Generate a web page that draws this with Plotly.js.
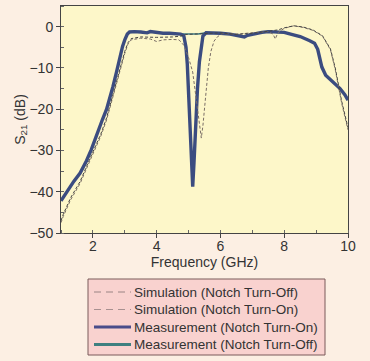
<!DOCTYPE html>
<html><head><meta charset="utf-8">
<script src="https://cdn.plot.ly/plotly-3.0.1.min.js"></script>
<style>html,body{margin:0;padding:0;background:#fcefe3;}#chart{width:370px;height:361px;}</style>
</head><body><div id="chart"></div>
<script>
// Measurement (Notch Turn-On)
const freqMeasOn = [1.0,1.2,1.4,1.6,1.8,1.95,2.06,2.2,2.3,2.43,2.53,2.63,2.74,2.84,2.93,3.0,3.08,3.15,3.3,3.5,3.7,3.8,4.0,4.2,4.4,4.6,4.75,4.85,4.92,4.96,5.0,5.05,5.1,5.13,5.17,5.22,5.28,5.34,5.4,5.45,5.55,5.8,6.0,6.3,6.6,6.75,6.85,7.0,7.3,7.5,7.8,8.0,8.2,8.5,8.8,8.95,9.05,9.1,9.18,9.3,9.45,9.6,9.75,9.9,10.0];
const measOn = [-42.2,-39.8,-37.5,-35.5,-32.5,-29.8,-27.4,-24.5,-22.5,-20,-17.5,-14.5,-11,-7.5,-4.8,-3.2,-1.8,-1.3,-1.2,-1.3,-1.5,-1.2,-1.5,-1.6,-1.6,-1.8,-1.8,-2.2,-5,-9,-16,-25,-33,-38.8,-33,-24,-15,-8.5,-4.5,-2.3,-1.5,-1.5,-1.6,-1.8,-2.2,-2.5,-2.1,-1.8,-1.4,-1.2,-1.4,-1.4,-1.8,-2.4,-3.4,-4.0,-5.5,-7.5,-9.8,-11.8,-12.8,-13.8,-15,-16.5,-17.8];
// Measurement (Notch Turn-Off)
const freqMeasOff = [1.0,1.2,1.4,1.6,1.8,1.95,2.06,2.2,2.3,2.43,2.53,2.63,2.74,2.84,2.93,3.0,3.08,3.15,3.3,3.5,3.7,3.8,4.0,4.2,4.4,4.6,4.75,5.0,5.3,5.55,5.8,6.0,6.3,6.6,6.75,6.85,7.0,7.3,7.5,7.8,8.0,8.2,8.5,8.8,8.95,9.05,9.1,9.18,9.3,9.45,9.6,9.75,9.9,10.0];
const measOff = [-42.2,-39.8,-37.5,-35.5,-32.5,-29.8,-27.4,-24.5,-22.5,-20,-17.5,-14.5,-11,-7.5,-4.8,-3.2,-1.8,-1.3,-1.2,-1.3,-1.5,-1.2,-1.5,-1.6,-1.6,-1.8,-1.8,-1.9,-1.8,-1.5,-1.5,-1.6,-1.8,-2.2,-2.5,-2.1,-1.8,-1.4,-1.2,-1.4,-1.4,-1.8,-2.4,-3.4,-4.0,-5.5,-7.5,-9.8,-11.8,-12.8,-13.8,-15,-16.5,-17.8];
// Simulation (Notch Turn-On)
const freqSimOn = [1.0,1.07,1.3,1.6,1.85,2.06,2.25,2.43,2.63,2.78,2.9,3.0,3.1,3.2,3.5,3.8,4.0,4.2,4.5,4.7,4.85,5.0,5.13,5.25,5.34,5.4,5.45,5.55,5.62,5.7,5.8,5.9,6.05,6.5,7.0,7.5,7.65,7.72,7.8,8.0,8.3,8.6,8.9,9.2,9.45,9.6,9.8,10.0];
const simOn = [-47.5,-46,-42,-38,-33.5,-29.9,-26.5,-22.6,-16.9,-12.5,-9.6,-6.5,-4.2,-3.2,-2.8,-3.0,-3.6,-3.2,-3.1,-3.2,-4.5,-7.5,-11,-18,-24,-27,-24,-15,-10,-6,-3.5,-2.5,-1.7,-1.8,-1.5,-1.2,-1.8,-3,-1.5,-0.4,0.2,-0.2,-0.9,-2.3,-5.6,-10.4,-18.5,-25];
// Simulation (Notch Turn-Off)
const freqSimOff = [1.0,1.07,1.3,1.6,1.85,2.06,2.25,2.43,2.63,2.78,2.9,3.0,3.1,3.2,3.5,4.0,4.5,4.75,4.9,5.2,5.5,6.0,6.5,7.0,7.5,7.8,8.0,8.3,8.6,8.9,9.2,9.45,9.6,9.8,10.0];
const simOff = [-47,-45.5,-41.5,-37.5,-33,-29.4,-26,-22.1,-16.4,-12,-9.1,-6,-3.9,-2.9,-2.5,-2.6,-2.5,-2.3,-1.9,-1.8,-1.7,-1.5,-1.9,-1.6,-1.1,-0.8,-0.3,0.2,-0.1,-0.8,-2.2,-5.4,-10,-18,-24.5];

const legendNames = ['Simulation (Notch Turn-Off)', 'Simulation (Notch Turn-On)', 'Measurement (Notch Turn-On)', 'Measurement (Notch Turn-Off)'];
const legendColors = ['#9a8484', '#a89090', '#4a4c8a', '#3f8080'];
const legendDash = ['7px,5px', '7px,5px', 'solid', 'solid'];
const legendWidth = [1, 1, 3.2, 3.2];

const traces = [
  {x: freqMeasOff, y: measOff, name: legendNames[3], mode: 'lines', line: {color: '#3e7a80', width: 1.5}},
  {x: freqMeasOn, y: measOn, name: legendNames[2], mode: 'lines', line: {color: '#3b4c80', width: 3.4}},
  {x: freqSimOn, y: simOn, name: legendNames[1], mode: 'lines', line: {color: '#7a6e66', width: 1, dash: '3px,2px'}},
  {x: freqSimOff, y: simOff, name: legendNames[0], mode: 'lines', line: {color: '#444444', width: 1, dash: '3px,2px'}}
];

// plot area in pixels (for placing the legend box below the axes)
const W = 370, H = 361, mL = 61, mR = 22, mT = 6, mB = 128;
const pw = W - mL - mR, ph = H - mT - mB;
const px = v => (v - mL) / pw;
const py = v => (H - mB - v) / ph;

const shapes = [{type: 'rect', xref: 'paper', yref: 'paper', x0: px(88), x1: px(325), y0: py(355), y1: py(279),
  fillcolor: '#f9d2cf', line: {color: '#7a5a5a', width: 1}, layer: 'below'}];
const annotations = [];
const rowY = [292, 309.5, 327, 344.5];
legendNames.forEach((n, i) => {
  shapes.push({type: 'line', xref: 'paper', yref: 'paper', x0: px(94), x1: px(131), y0: py(rowY[i]), y1: py(rowY[i]),
    line: {color: legendColors[i], width: legendWidth[i], dash: legendDash[i]}});
  annotations.push({xref: 'paper', yref: 'paper', x: px(132), y: py(rowY[i]), xanchor: 'left', yanchor: 'middle',
    text: n, showarrow: false, font: {family: 'Liberation Sans, Arial, sans-serif', size: 13.5, color: '#333333'}});
});

const tfnt = {family: 'Liberation Sans, Arial, sans-serif', size: 14, color: '#333333'};
const layout = {
  width: W, height: H,
  paper_bgcolor: '#fcefe3', plot_bgcolor: '#fdf7c9',
  margin: {l: mL, r: mR, t: mT, b: mB},
  font: tfnt,
  showlegend: false,
  shapes: shapes, annotations: annotations,
  xaxis: {range: [1, 10], tickvals: [2,4,6,8,10], ticks: 'outside', ticklen: 4, tickcolor: '#444',
    showline: true, linecolor: '#444', linewidth: 1, mirror: true, showgrid: false, zeroline: false,
    ticklabelstandoff: -4,
    minor: {dtick: 1, tick0: 0, ticks: 'inside', ticklen: 3, tickcolor: '#666', showgrid: false},
    title: {text: 'Frequency (GHz)', font: tfnt, standoff: 2}, tickfont: tfnt},
  yaxis: {range: [-50, 5], tickvals: [-50,-40,-30,-20,-10,0], ticks: 'outside', ticklen: 4, tickcolor: '#444',
    showline: true, linecolor: '#444', linewidth: 1, mirror: true, showgrid: false, zeroline: false,
    minor: {dtick: 5, tick0: 0, ticks: 'inside', ticklen: 3, tickcolor: '#666', showgrid: false},
    title: {text: 'S<sub>21</sub> (dB)', font: tfnt, standoff: 0}, tickfont: tfnt}
};
Plotly.newPlot('chart', traces, layout, {displayModeBar: false, staticPlot: true});
</script></body></html>
